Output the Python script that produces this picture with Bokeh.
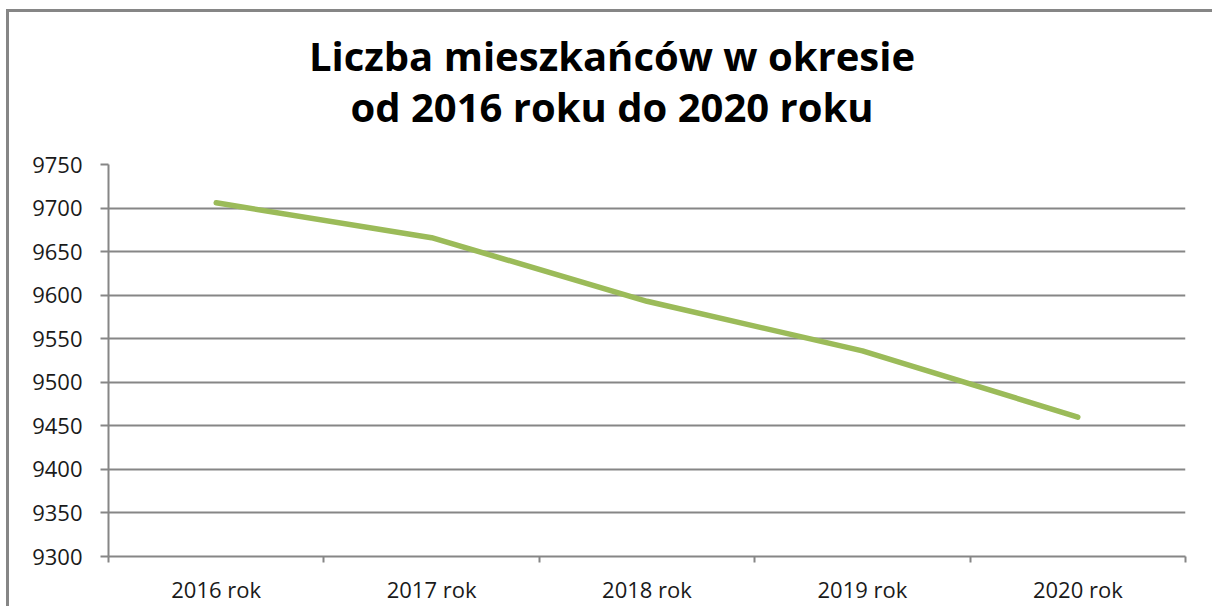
from bokeh.plotting import figure
from bokeh.models import FixedTicker, Range1d, Div
from bokeh.layouts import column
from bokeh.embed import file_html
from bokeh.resources import INLINE

categories = ["2016 rok", "2017 rok", "2018 rok", "2019 rok", "2020 rok"]
population = [9706, 9666, 9593, 9536, 9460]
y_ticks = [9300, 9350, 9400, 9450, 9500, 9550, 9600, 9650, 9700, 9750]
title_lines = ["Liczba mieszkańców w okresie", "od 2016 roku do 2020 roku"]

xs = [i + 0.5 for i in range(len(categories))]

FONT = "Open Sans"
GRAY = "#868686"

title = Div(text=(
    '<div style="box-sizing:border-box;width:1202px;padding:13px 6px 0 0;text-align:center;'
    'font-family:\'Open Sans\';font-weight:bold;font-size:40px;line-height:51px;color:#000;">'
    + "<br>".join(title_lines) + "</div>"), width=1202, height=120)

p = figure(frame_width=1077, frame_height=392,
           x_range=Range1d(0, len(categories)), y_range=Range1d(y_ticks[0], y_ticks[-1]),
           output_backend="svg", toolbar_location=None,
           min_border_left=99, min_border_right=26, min_border_bottom=40, min_border_top=22)

p.line(xs, population, line_color="#9BBB59", line_width=5.5, line_cap="round", line_join="round")

p.outline_line_color = None
p.xgrid.visible = False
p.ygrid.grid_line_color = GRAY
p.ygrid.grid_line_width = 2
p.ygrid.ticker = FixedTicker(ticks=y_ticks)

p.yaxis.ticker = FixedTicker(ticks=y_ticks)
p.yaxis.axis_line_color = GRAY
p.yaxis.axis_line_width = 2
p.yaxis.major_tick_line_color = GRAY
p.yaxis.major_tick_line_width = 2
p.yaxis.major_tick_out = 8
p.yaxis.major_tick_in = 0
p.yaxis.minor_tick_line_color = None
p.yaxis.major_label_text_font = FONT
p.yaxis.major_label_text_font_size = "22px"
p.yaxis.major_label_text_color = "#1a1a1a"
p.yaxis.major_label_standoff = 18

p.xaxis.ticker = FixedTicker(ticks=xs, minor_ticks=list(range(len(categories) + 1)))
p.xaxis.major_label_overrides = {x: c for x, c in zip(xs, categories)}
p.xaxis.axis_line_color = GRAY
p.xaxis.axis_line_width = 2
p.xaxis.major_tick_line_color = None
p.xaxis.minor_tick_line_color = GRAY
p.xaxis.minor_tick_line_width = 2
p.xaxis.minor_tick_out = 6
p.xaxis.minor_tick_in = 0
p.xaxis.major_label_text_font = FONT
p.xaxis.major_label_text_font_size = "22px"
p.xaxis.major_label_text_color = "#1a1a1a"
p.xaxis.major_label_standoff = 11

layout = column(title, p, spacing=0)
layout.styles = {"border-left": "3px solid #868686", "border-top": "3px solid #868686",
                 "margin-left": "6px", "margin-top": "9px"}

open("out.html", "w").write(file_html(layout, INLINE))
